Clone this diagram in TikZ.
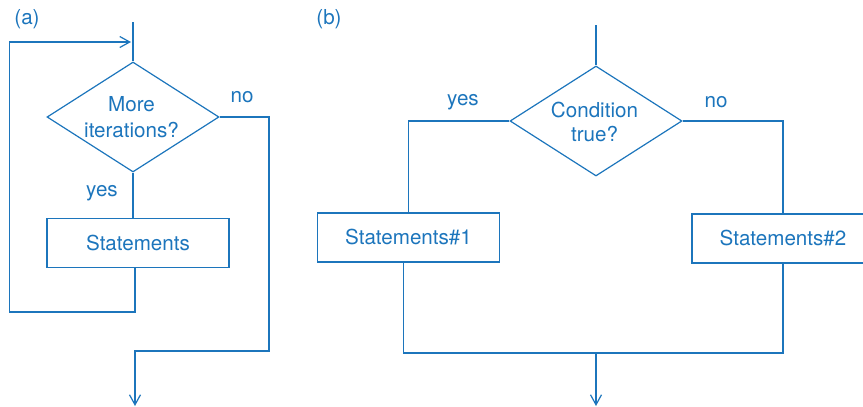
\documentclass[tikz,border=0pt]{standalone}
\usepackage{fontspec}
\setmainfont{TeX Gyre Heros}
\usetikzlibrary{shapes.geometric,arrows.meta,calc}
\definecolor{fc}{RGB}{28,117,188}
\begin{document}
\begin{tikzpicture}[x=1pt,y=-1pt,
  every node/.style={text=fc,font=\fontsize{20.6}{25}\selectfont},
  line/.style={draw=fc,line width=1.2pt},
  arr/.style={line,-{Straight Barb[length=10pt,width=11pt,line width=1.2pt]}},
  decision/.style={diamond,draw=fc,line width=1.2pt,inner sep=0pt,minimum width=172pt,minimum height=110pt},
  dtext/.style={inner sep=0pt,align=center},
  stmt/.style={rectangle,draw=fc,line width=1.2pt,minimum width=182pt,minimum height=49pt,inner sep=0pt},
  lbl/.style={inner sep=0pt}]
\useasboundingbox (0,0) rectangle (863,407);
\clip (0,0) rectangle (863,407);
% panel (a)
\node[lbl] (la) at (27,19) {(a)};
\node[decision] (d1) at (133,117) {};
\node[dtext,font=\fontsize{20.6}{26}\selectfont] (t1) at (131.5,117) {More\\iterations?};
\node[stmt] (b1) at (138,243) {Statements};
\node[lbl] (ya) at (102,193) {yes};
\node[lbl] (na) at (242,97) {no};
\coordinate (a0) at (133,22);
\coordinate (aloopB) at (9.5,312);
\coordinate (aloopT) at (9.5,42);
\coordinate (aloopE) at (131,42);
\coordinate (aR) at (269,117);
\coordinate (aRB) at (269,351);
\coordinate (aOutT) at (135,351);
\coordinate (aOutE) at (135,406);
\coordinate (aBx) at (135,267);
\draw[line] (a0) -- (d1.north);
\draw[line] (d1.south) -- (d1.south |- b1.north);
\draw[arr] (b1.south -| aBx) |- (aloopB) -- (aloopT) -- (aloopE);
\draw[arr] (d1.east) -- (aR) -- (aRB) -- (aOutT) -- (aOutE);
% panel (b)
\node[lbl] (lb) at (329,19) {(b)};
\node[decision] (d2) at (596,121) {};
\node[dtext,font=\fontsize{20.6}{23.5}\selectfont] (t2) at (594.5,122) {Condition\\true?};
\node[stmt] (s1) at (408.5,237.5) {Statements\#1};
\node[stmt] (s2) at (783,238.5) {Statements\#2};
\node[lbl] (yb) at (463,102) {yes};
\node[lbl] (nb) at (716,102) {no};
\coordinate (b0) at (596,25);
\coordinate (m1) at (403.5,353);
\coordinate (m2) at (783,353);
\coordinate (bOutE) at (596,406);
\draw[line] (b0) -- (d2.north);
\draw[line] (d2.west) -| (s1.north);
\draw[line] (d2.east) -| (s2.north);
\draw[line] (s1.south -| m1) -- (m1) -- (m2) -- (s2.south -| m2);
\draw[arr] (d2.south |- m1) -- (bOutE);
\end{tikzpicture}
\end{document}
